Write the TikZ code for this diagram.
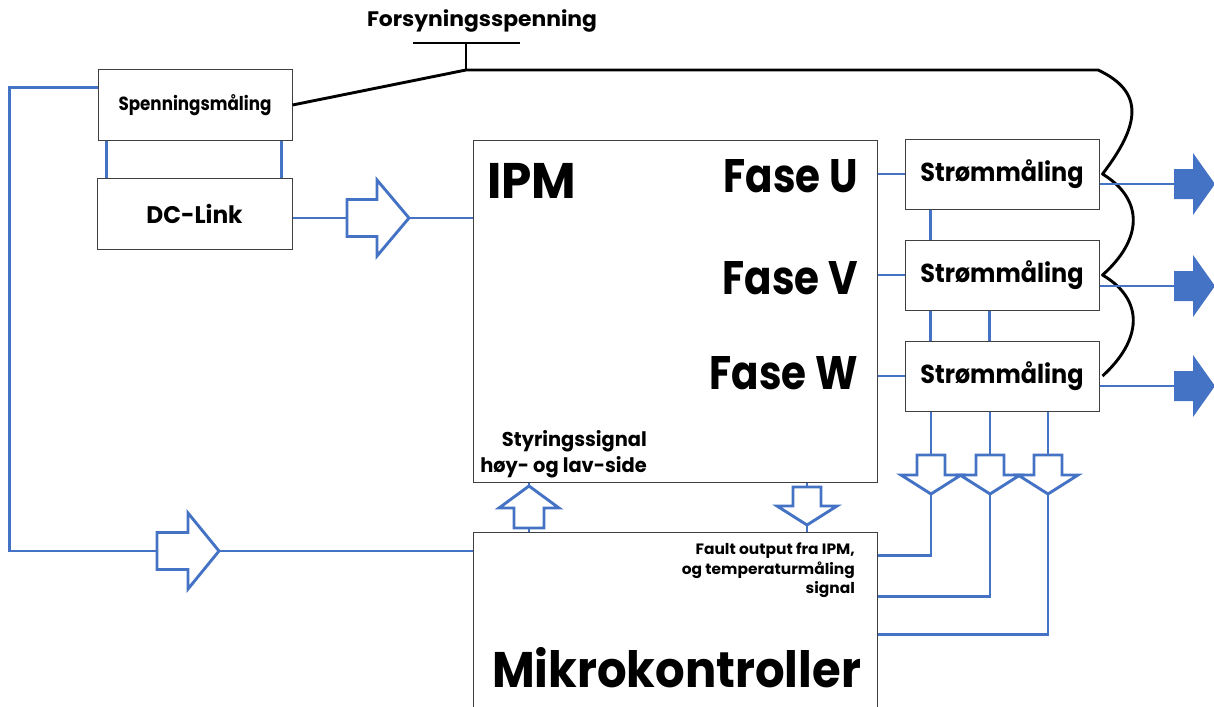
\documentclass[tikz,border=0pt]{standalone}
\usepackage{fontspec}
\setmainfont{Poppins}
\usetikzlibrary{calc}
\definecolor{bl}{HTML}{4472C4}
\definecolor{bx}{HTML}{404040}
\newcommand\hsc[2]{\scalebox{#1}[1]{#2}}
\tikzset{
  blueline/.style={draw=bl,line width=2.9pt},
  blk/.style={draw=black,line width=2.9pt},
  box/.style 2 args={draw=bx,line width=1pt,fill=white,minimum width=#1pt,minimum height=#2pt,inner sep=0pt},
  txt/.style={inner sep=0pt,font=\bfseries\fontsize{#1}{#1}\selectfont},
  pics/openarr/.style n args={4}{code={
    \draw[blueline,fill=white,line join=miter] (0,-#2)--(#1,-#2)--(#1,-#4)--({#1+#3},0)--(#1,#4)--(#1,#2)--(0,#2)--cycle;
    \coordinate (-tail) at (0,0); \coordinate (-tip) at ({#1+#3},0);}},
  pics/fillarr/.style={code={
    \fill[bl] (0,-15)--(19,-15)--(19,-31)--(41,0)--(19,31)--(19,15)--(0,15)--cycle;
    \coordinate (-tail) at (0,0);}}
}
\begin{document}
\begin{tikzpicture}[x=1pt,y=-1pt]
\useasboundingbox (0,0) rectangle (1214,706);
% boxes
\node[box={194}{70}] (spm) at (195,105) {};
\node[box={195}{71}] (dc) at (194.5,213.5) {};
\node[box={404}{342}] (ipm) at (675,311) {};
\node[box={404}{180}] (mk) at (675,622) {};
\node[box={194}{70}] (su) at (1002,174) {};
\node[box={194}{70}] (sv) at (1002,275) {};
\node[box={194}{70}] (sw) at (1002,376) {};
% texts
\node[txt=19] (tspm) at (spm.center) {\hsc{0.88}{Spenningsmåling}};
\node[txt=24] (tdc) at (dc.center) {\hsc{0.97}{DC-Link}};
\node[txt=26] (tsu) at (su.center) {\hsc{0.92}{Strømmåling}};
\node[txt=26] (tsv) at (sv.center) {\hsc{0.92}{Strømmåling}};
\node[txt=26] (tsw) at (sw.center) {\hsc{0.92}{Strømmåling}};
\node[txt=21,anchor=base] (tfor) at (482,27) {\hsc{1.04}{Forsyningsspenning}};
\node[txt=50,anchor=base west] (tipm) at (487,198) {\hsc{0.97}{IPM}};
\node[txt=47,anchor=base east] (tfu) at (858,192) {\hsc{0.86}{Fase U}};
\node[txt=47,anchor=base east] (tfv) at (858,294) {\hsc{0.86}{Fase V}};
\node[txt=47,anchor=base east] (tfw) at (858,389) {\hsc{0.86}{Fase W}};
\node[txt=20,anchor=base east] (tsty) at (647,446) {\hsc{0.97}{Styringssignal}};
\node[txt=20,anchor=base east] (tsty2) at (647,472) {\hsc{0.97}{høy- og lav-side}};
\node[txt=15,anchor=base east] (tf1) at (855,554) {\hsc{1.03}{Fault output fra IPM,}};
\node[txt=15,anchor=base east] (tf2) at (855,574) {\hsc{1.03}{og temperaturmåling}};
\node[txt=15,anchor=base east] (tf3) at (855,593) {\hsc{1.03}{signal}};
\node[txt=50,anchor=base west] (tmk) at (492,687) {\hsc{0.93}{Mikrokontroller}};
% black supply line
\coordinate (tj) at (466,70);
\coordinate (tb) at (466,43);
\coordinate (c0) at (1098,70);
\coordinate (k1) at ($(su.east)+(3,0)$);
\coordinate (k2) at ($(sv.east)+(3,0)$);
\coordinate (k3) at ($(sw.east)+(3,0)$);
\draw[blk] ($(tb)+(-53,0)$) -- ($(tb)+(54,0)$);
\draw[blk] (tb) -- (tj);
\draw[blk,line join=round] (spm.east) -- (tj) -- (c0)
  .. controls (1145,92) and (1140,125) .. (k1)
  .. controls (1145,200) and (1142,240) .. (k2)
  .. controls (1145,300) and (1142,340) .. (k3);
% blue links IPM -> current measurements
\draw[blueline] (ipm.east |- su.west) -- (su.west);
\draw[blueline] (ipm.east |- sv.west) -- (sv.west);
\draw[blueline] (ipm.east |- sw.west) -- (sw.west);
% verticals between boxes
\draw[blueline] ($(su.south west)+(26,0)$) -- ($(sv.north west)+(26,0)$);
\draw[blueline] ($(sv.south west)+(26,0)$) -- ($(sw.north west)+(26,0)$);
\draw[blueline] ($(sv.south west)+(85,0)$) -- ($(sw.north west)+(85,0)$);
% verticals between voltage meas and DC link
\draw[blueline] ($(spm.south west)+(9,0)$) -- ($(dc.north west)+(10,0)$);
\draw[blueline] ($(spm.south east)+(-11,0)$) -- ($(dc.north east)+(-11,0)$);
% outputs
\pic (ou) at (1174,184) {fillarr};
\pic (ov) at (1174,286) {fillarr};
\pic (ow) at (1174,386) {fillarr};
\draw[blueline] (ou-tail -| su.east) -- (ou-tail);
\draw[blueline] (ov-tail -| sv.east) -- (ov-tail);
\draw[blueline] (ow-tail -| sw.east) -- (ow-tail);
% DC link -> IPM
\pic (a1) at (347,218) {openarr={30}{18.5}{32}{38}};
\draw[blueline] (a1-tail -| dc.east) -- (a1-tail);
\draw[blueline] (a1-tip) -- (a1-tip -| ipm.west);
% voltage meas -> microcontroller
\pic (a2) at (157,551) {openarr={31}{18.5}{31}{38}};
\coordinate (lp) at ($(spm.north west)+(0,18)$);
\draw[blueline,line join=miter] (lp) -- ($(lp)+(-88,0)$) |- (a2-tail);
\draw[blueline] (a2-tip) -- (a2-tip -| mk.west);
% control signal up
\pic[rotate=90] (up) at (529,528) {openarr={20}{15}{22}{30}};
\draw[blueline] (up-tail) -- (up-tail |- mk.north);
\draw[blueline] (up-tip) -- (up-tip |- ipm.south);
% fault down
\pic[rotate=-90] (dn) at (807,487) {openarr={19}{14}{19}{30}};
\draw[blueline] (dn-tail |- ipm.south) -- (dn-tail);
\draw[blueline] (dn-tip) -- (dn-tip |- mk.north);
% current meas -> microcontroller
\coordinate (m1) at ($(mk.north east)+(0,24)$);
\coordinate (m2) at ($(mk.north east)+(0,65)$);
\coordinate (m3) at ($(mk.north east)+(0,103)$);
\pic[rotate=-90] (b1) at (931,455) {openarr={20}{14}{19}{30}};
\pic[rotate=-90] (b2) at (990,455) {openarr={20}{14}{19}{30}};
\pic[rotate=-90] (b3) at (1048,455) {openarr={20}{14}{19}{30}};
\draw[blueline] (b1-tail |- sw.south) -- (b1-tail);
\draw[blueline] (b2-tail |- sw.south) -- (b2-tail);
\draw[blueline] (b3-tail |- sw.south) -- (b3-tail);
\draw[blueline,line join=miter] (b1-tip) |- (m1);
\draw[blueline,line join=miter] (b2-tip) |- (m2);
\draw[blueline,line join=miter] (b3-tip) |- (m3);
\end{tikzpicture}
\end{document}
